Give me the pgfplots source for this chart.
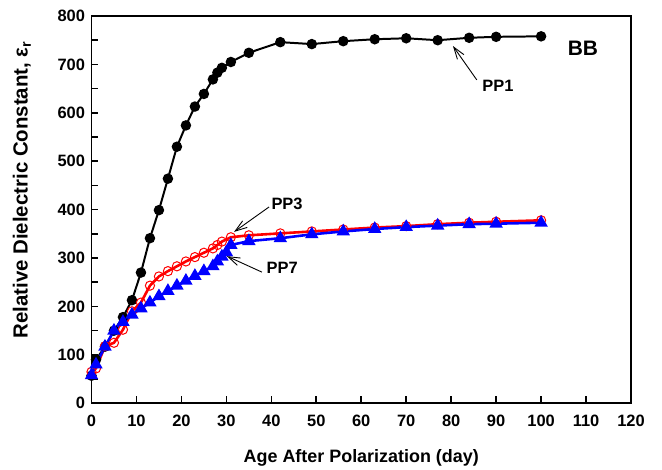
\documentclass[border=0pt]{standalone}
\usepackage{pgfplots}
\pgfplotsset{compat=1.18}
\usepackage{fontspec}
\setmainfont{Liberation Sans}
\usetikzlibrary{arrows.meta}

\begin{document}
\begin{tikzpicture}
\useasboundingbox (-91.5bp,-66.7bp) rectangle (570.5bp,403.3bp);
\begin{axis}[
  width=539.5bp, height=387.3bp, scale only axis,
  at={(0,0)}, anchor=south west,
  xmin=0, xmax=120, ymin=0, ymax=800,
  xtick={0,10,...,120}, ytick={0,100,...,800},
  minor ytick={50,150,...,750},
  tick pos=left, tick align=inside,
  major tick length=7bp, minor tick length=7bp,
  axis line style={line width=2pt},
  every tick/.style={line width=1.6pt, black},
  /pgf/number format/assume math mode=true,
  tick label style={font=\fontsize{16.5}{18}\selectfont\bfseries},
  xticklabel style={yshift=-8bp},
  yticklabel style={xshift=-3bp},
  xlabel={Age After Polarization (day)},
  ylabel={Relative Dielectric Constant, ε\textsubscript{r}},
  xlabel style={font=\fontsize{18}{20}\selectfont\bfseries, at={(axis description cs:0.5,-0.141)}, anchor=center},
  ylabel style={font=\fontsize{20.5}{22}\selectfont\bfseries, at={(axis description cs:-0.129,0.551)}, anchor=center},
  clip=false,
]
\addplot[black, line width=2pt, mark=*, mark size=4.2bp, mark options={solid, fill=black}] coordinates {
(0,57) (1,90) (3,117) (5,150) (7,178) (9,213) (11,270) (13,341) (15,399) (17,464) (19,530) (21,574) (23,613) (25,639) (27,669) (28,683) (29,693) (31,705) (35,724) (42,746) (49,742) (56,748) (63,752) (70,754) (77,750) (84,755) (90,757) (100,758)
};
\addplot[red, line width=2.6pt, mark=o, mark size=4.6bp, mark options={solid, line width=1pt, fill=white}] coordinates {
(0,65) (1,72) (3,118) (5,125) (7,152) (9,190) (11,208) (13,243) (15,262) (17,273) (19,283) (21,293) (23,302) (25,311) (27,320) (28,327) (29,334) (31,343) (35,347) (42,351) (49,355) (56,359) (63,363) (70,366) (77,370) (84,373) (90,375) (100,378)
};
\addplot[blue, line width=2.6pt, mark=triangle*, mark size=5.2bp, mark options={solid, fill=blue}] coordinates {
(0,58) (1,80) (3,117) (5,150) (7,168) (9,183) (11,196) (13,208) (15,221) (17,232) (19,243) (21,253) (23,263) (25,273) (27,283) (28,293) (29,303) (30,312) (31,327) (35,335) (42,341) (49,349) (56,355) (63,360) (70,364) (77,367) (84,370) (90,371) (100,373)
};
\node[font=\fontsize{21}{23}\selectfont\bfseries] at (axis cs:109.3,734) {BB};
\node[font=\fontsize{16.5}{18}\selectfont\bfseries] at (axis cs:90.4,655.6) {PP1};
\node[font=\fontsize{16.5}{18}\selectfont\bfseries] at (axis cs:43.5,412) {PP3};
\node[font=\fontsize{16.5}{18}\selectfont\bfseries] at (axis cs:42.4,279.5) {PP7};
\draw[-{Straight Barb[length=12bp,width=8bp]}, line width=0.9bp] (axis cs:85.7,668) -- (axis cs:80.4,738);
\draw[-{Straight Barb[length=12bp,width=8bp]}, line width=0.9bp] (axis cs:39.5,405.6) -- (axis cs:31.7,354);
\draw[-{Straight Barb[length=12bp,width=8bp]}, line width=0.9bp] (axis cs:37.9,271) -- (axis cs:30.1,304);
\end{axis}
\end{tikzpicture}
\end{document}
